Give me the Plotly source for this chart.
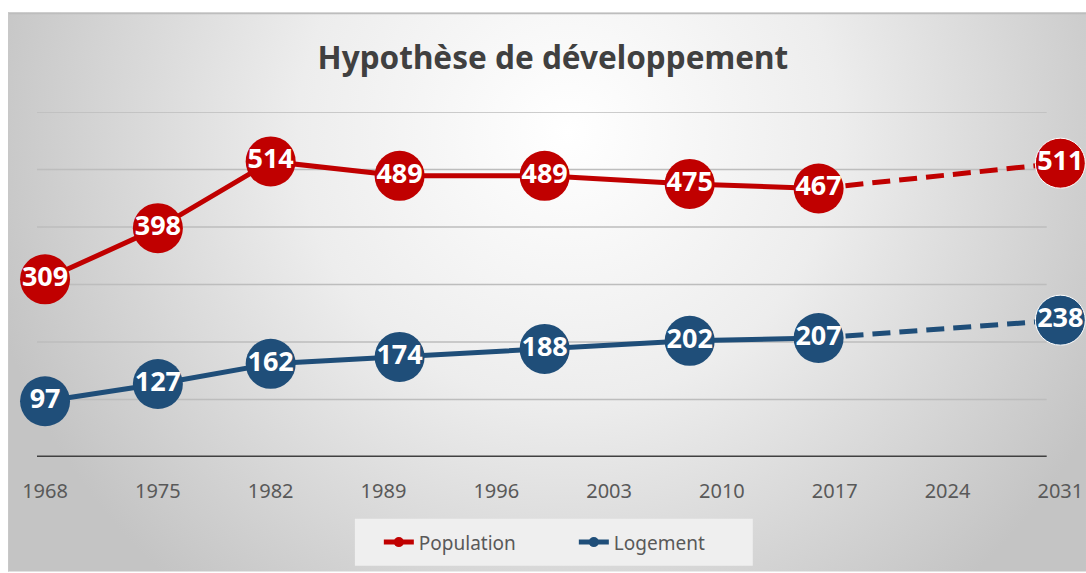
import base64
import plotly.graph_objects as go

# ---- data ----
years_obs = [1968, 1975, 1982, 1990, 1999, 2008, 2016]
population_obs = [309, 398, 514, 489, 489, 475, 467]
logement_obs = [97, 127, 162, 174, 188, 202, 207]

years_proj = [2016, 2031]
population_proj = [467, 511]
logement_proj = [207, 238]

tick_years = [1968, 1975, 1982, 1989, 1996, 2003, 2010, 2017, 2024, 2031]
tick_labels = [str(y) for y in tick_years]
y_grid = [100, 200, 300, 400, 500, 600]

RED = "#C00000"
BLUE = "#1F4E79"
K = 1.008  # horizontal compensation
W, H = round(1086 * K), 573
L, R, T = 37 * K, 16 * K, 112
B = H - 458
PW, PH = W - L - R, H - T - B


def px_to_paper_x(px):
    return (px * K - L) / PW


def px_to_paper_y(py):
    return (H - B - py) / PH


svg = (
    "<svg xmlns='http://www.w3.org/2000/svg' width='1078' height='561' "
    "viewBox='0 0 1078 561' preserveAspectRatio='none'>"
    "<defs><radialGradient id='g' gradientUnits='userSpaceOnUse' cx='560' cy='120' r='600'>"
    "<stop offset='0' stop-color='#ffffff'/>"
    "<stop offset='0.45' stop-color='#ededed'/>"
    "<stop offset='1' stop-color='#c4c4c4'/>"
    "</radialGradient></defs>"
    "<rect x='0' y='0' width='1078' height='561' fill='url(#g)'/>"
    "<line x1='0' y1='1' x2='1078' y2='1' stroke='#bdbdbd' stroke-width='2'/>"
    "<line x1='0.5' y1='0' x2='0.5' y2='561' stroke='#c8c8c8' stroke-width='1'/>"
    "</svg>"
)
svg_uri = "data:image/svg+xml;base64," + base64.b64encode(svg.encode()).decode()

fig = go.Figure()

label_font = dict(family="Noto Sans", size=27, color="white")

# projections (dashed)
for yp, col, name in [(population_proj, RED, "Population"), (logement_proj, BLUE, "Logement")]:
    fig.add_trace(go.Scatter(
        x=years_proj, y=yp, mode="lines+markers+text",
        line=dict(color=col, width=5, dash="18px,9px"),
        marker=dict(size=[0, 50], color=col, opacity=1),
        text=["", str(yp[-1])], textposition="middle center",
        textfont=label_font, texttemplate="<b>%{text}</b>",
        showlegend=False, cliponaxis=False, hoverinfo="skip",
    ))

# observed
for yo, col, name in [(population_obs, RED, "Population"), (logement_obs, BLUE, "Logement")]:
    fig.add_trace(go.Scatter(
        x=years_obs, y=yo, mode="lines+markers+text",
        line=dict(color=col, width=5),
        marker=dict(size=50, color=col, opacity=1),
        text=[str(v) for v in yo], textposition="middle center",
        textfont=label_font, texttemplate="<b>%{text}</b>",
        showlegend=False, cliponaxis=False, name=name,
    ))

# legend entries
for col, name in [(RED, "Population"), (BLUE, "Logement")]:
    fig.add_trace(go.Scatter(
        x=[None], y=[None], mode="lines+markers", name=name,
        line=dict(color=col, width=5), marker=dict(size=10, color=col),
    ))

shapes = []
grid_right = px_to_paper_x(1047)
for gy in y_grid:
    shapes.append(dict(type="line", xref="paper", yref="y", x0=0, x1=grid_right, y0=gy, y1=gy,
                       line=dict(color="#bdbdbd", width=1.5), layer="below"))
shapes.append(dict(type="line", xref="paper", yref="y", x0=0, x1=grid_right, y0=0, y1=0,
                   line=dict(color="#404040", width=3), layer="below"))
# legend box
shapes.append(dict(type="rect", xref="paper", yref="paper",
                   x0=px_to_paper_x(355), x1=px_to_paper_x(753),
                   y0=px_to_paper_y(567), y1=px_to_paper_y(520),
                   fillcolor="#efefef", line=dict(width=0), layer="below"))

fig.update_layout(
    width=W, height=H,
    margin=dict(l=L, r=R, t=T, b=B),
    paper_bgcolor="white", plot_bgcolor="rgba(0,0,0,0)",
    title=dict(text="<b>Hypothèse de développement</b>", x=px_to_paper_x(553), xref="paper",
               xanchor="center", y=1 - 58 / H, yanchor="middle",
               font=dict(family="Noto Sans", size=31.5, color="#404040")),
    xaxis=dict(range=[1967.5, 2031.6], tickvals=tick_years, ticktext=tick_labels,
               showgrid=False, zeroline=False, showline=False,
               ticks="outside", ticklen=16, tickcolor="rgba(0,0,0,0)",
               tickfont=dict(family="Noto Sans", size=20, color="#595959")),
    yaxis=dict(range=[0, 600], showgrid=False, zeroline=False, showticklabels=False, showline=False),
    legend=dict(orientation="h", x=px_to_paper_x(574), xanchor="center",
                y=px_to_paper_y(543.5), yanchor="middle", bgcolor="rgba(0,0,0,0)",
                entrywidth=150,
                font=dict(family="Noto Sans", size=19, color="#595959")),
    shapes=shapes,
    images=[dict(source=svg_uri, xref="paper", yref="paper",
                 x=px_to_paper_x(8), y=px_to_paper_y(12),
                 sizex=(W - 8 * K) / PW, sizey=(H - 12) / PH,
                 xanchor="left", yanchor="top", sizing="stretch", layer="below")],
)

fig.write_html(
    "out.html",
    config={"displayModeBar": False},
    post_script="document.body.style.margin='0';document.body.style.overflow='hidden';",
)
